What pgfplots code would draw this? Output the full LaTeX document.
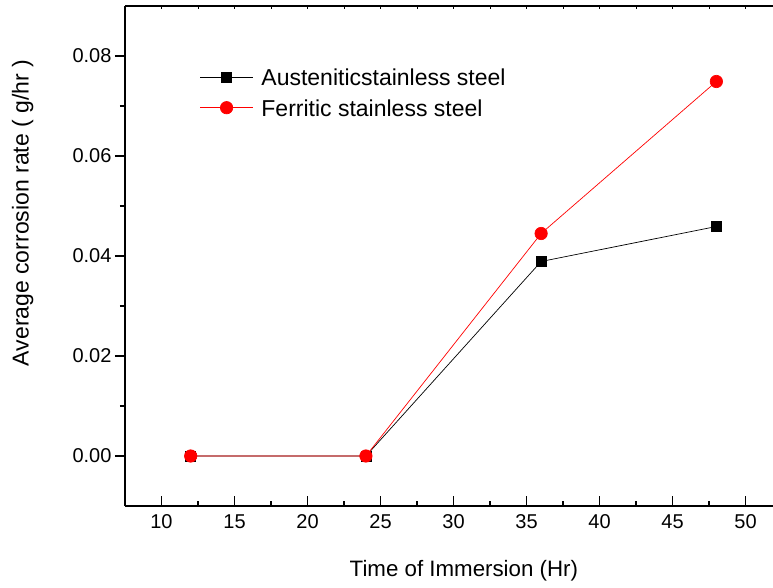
\documentclass[border=0pt]{standalone}
\usepackage{pgfplots}
\pgfplotsset{compat=1.18}
\usepackage{fontspec}
\setmainfont{Liberation Sans}
\begin{document}
\begin{tikzpicture}
\begin{axis}[
  scale only axis,
  width=648pt, height=500pt,
  xmin=7.5, xmax=51.88,
  ymin=-0.01, ymax=0.09,
  axis x line=bottom, axis y line=left,
  axis line style={-, line width=1.5pt},
  xtick={10,15,...,50},
  minor x tick num=1,
  ytick={0,0.02,0.04,0.06,0.08},
  minor y tick num=1,
  x tick style={line width=1.2pt, black},
  y tick style={line width=1.2pt, black},
  major tick length=10pt,
  minor tick length=5pt,
  xtick align=inside,
  ytick align=outside,
  xticklabel style={font=\fontsize{20}{22}\selectfont, yshift=-5pt},
  yticklabel style={font=\fontsize{20}{22}\selectfont, /pgf/number format/fixed, /pgf/number format/fixed zerofill, /pgf/number format/precision=2},
  /pgf/number format/assume math mode=true,
  scaled y ticks=false,
  xlabel={Time of Immersion (Hr)},
  ylabel={Average corrosion rate ( g/hr )},
  xlabel style={font=\fontsize{22.3}{24}\selectfont, at={(rel axis cs:0.523,-0.14)}, anchor=base},
  ylabel style={font=\fontsize{23}{24}\selectfont, at={(rel axis cs:-0.158,0.586)}, anchor=center, rotate=0},
  legend style={at={(rel axis cs:0.115,0.877)}, anchor=north west, draw=none, fill=none,
    font=\fontsize{23}{25}\selectfont, inner sep=0pt, row sep=12pt,
    nodes={inner sep=1pt, text depth=0pt}},
  legend cell align=left,
  legend image code/.code={%
    \draw[mark repeat=2, mark phase=2, #1] plot coordinates {(0pt,0pt)(26.5pt,0pt)(53pt,0pt)};
    \path (60pt,0pt);},
  clip=false,
]
\addplot[black, line width=0.7pt, mark=square*, mark size=5pt, mark options={solid, fill=black}]
  coordinates {(12,0) (24,0) (36,0.0389) (48,0.0459)};
\addlegendentry{Austeniticstainless steel}
\addplot[red, line width=0.7pt, mark=*, mark size=6.2pt, mark options={solid, fill=red, draw=red}]
  coordinates {(12,0) (24,0) (36,0.0445) (48,0.0749)};
\addlegendentry{Ferritic stainless steel}
\end{axis}
\begin{axis}[
  scale only axis,
  width=648pt, height=500pt,
  xmin=7.5, xmax=51.88,
  ymin=-0.01, ymax=0.09,
  axis x line*=top,
  axis y line=none,
  axis line style={-, line width=1.5pt},
  xtick={10,15,...,50},
  minor x tick num=1,
  xticklabels={},
  tick align=inside,
  major tick length=3pt, minor tick length=3pt,
  x tick style={line width=1pt, black},
]
\end{axis}
\pgfresetboundingbox
\path[use as bounding box] (-125pt,-81pt) rectangle (648pt,506pt);
\end{tikzpicture}
\end{document}
